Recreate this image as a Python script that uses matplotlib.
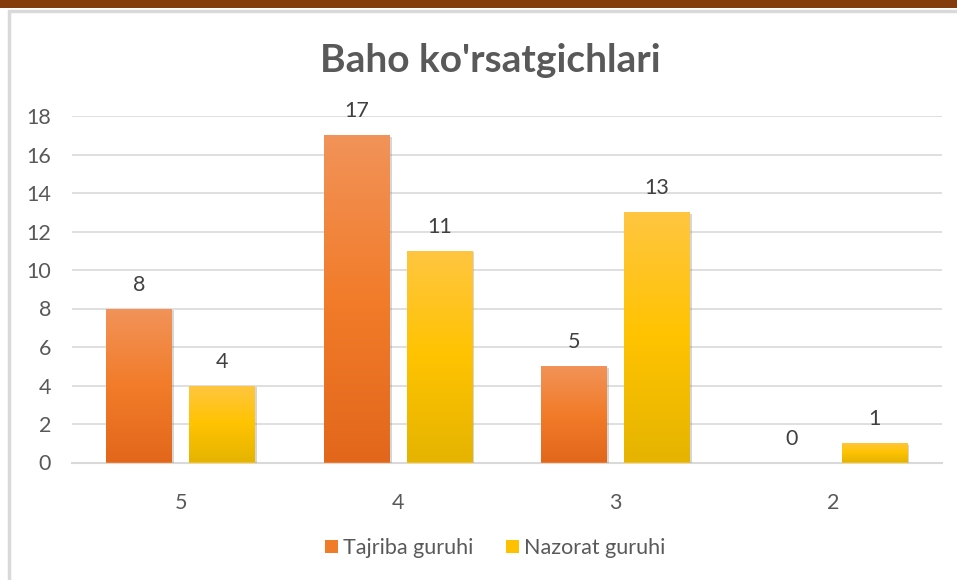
import matplotlib
matplotlib.use("Agg")
import matplotlib.pyplot as plt
import numpy as np
from matplotlib.colors import LinearSegmentedColormap
from matplotlib.patches import Rectangle, Patch
import matplotlib.patheffects as pe

categories = ["5", "4", "3", "2"]
tajriba = [8, 17, 5, 0]
nazorat = [4, 11, 13, 1]
series_names = ["Tajriba guruhi", "Nazorat guruhi"]
title = "Baho ko'rsatgichlari"
yticks = [0, 2, 4, 6, 8, 10, 12, 14, 16, 18]

FONT = ["Lato", "DejaVu Sans"]
plt.rcParams["font.family"] = FONT
TXT = "#595959"
FS = 15.5

fig = plt.figure(figsize=(9.57, 5.8), dpi=100)
W, H = 957, 580

# brown top band and chart area border
fig.patches.append(Rectangle((0, 1 - 8 / H), 1, 8 / H, transform=fig.transFigure,
                             facecolor="#843C0C", edgecolor="none", zorder=-2))
fig.patches.append(Rectangle((8.5 / W, -0.1), 1.2, 1 - 11 / H + 0.1, transform=fig.transFigure,
                             facecolor="white", edgecolor="#D9D9D9", linewidth=2.5, zorder=-2))

ax = fig.add_axes([72 / W, 1 - 462.5 / H, 870 / W, 346.5 / H])
ax.set_zorder(1)
ax.set_facecolor("none")

x = np.arange(len(categories))
bw = 0.303
off = 0.19

cmap_o = LinearSegmentedColormap.from_list("o", ["#F19359", "#F27C2A", "#E2671B"])
cmap_y = LinearSegmentedColormap.from_list("y", ["#FFC641", "#FFC300", "#E5B400"])

shadow = [pe.SimplePatchShadow(offset=(1.2, -1.2), shadow_rgbFace="#7a7a7a", alpha=0.3), pe.Normal()]
b1 = ax.bar(x - off, tajriba, bw, color="#F07B28", zorder=3, path_effects=shadow)
b2 = ax.bar(x + off, nazorat, bw, color="#FFC000", zorder=3, path_effects=shadow)

for bars, cm in ((b1, cmap_o), (b2, cmap_y)):
    for b in bars:
        h = b.get_height()
        if h <= 0:
            continue
        x0 = b.get_x()
        im = ax.imshow(np.linspace(0, 1, 256).reshape(-1, 1),
                       extent=(x0, x0 + b.get_width(), 0, h), cmap=cm,
                       aspect="auto", origin="upper", zorder=4, vmin=0, vmax=1)
        im.set_clip_path(b)

ax.set_xlim(-0.5, 3.5)
ax.set_ylim(0, 18)
ax.set_yticks(yticks)
ax.set_xticks(x)
ax.set_xticklabels(categories)
ax.grid(axis="y", color="#D9D9D9", linewidth=1.2, zorder=0)
ax.set_axisbelow(True)
for s in ["top", "right", "left"]:
    ax.spines[s].set_visible(False)
ax.spines["bottom"].set_color("#D9D9D9")
ax.spines["bottom"].set_linewidth(1.5)
ax.tick_params(axis="both", length=0, labelsize=FS, labelcolor=TXT)
ax.tick_params(axis="y", pad=15)
ax.tick_params(axis="x", pad=22)

for bars, vals in ((b1, tajriba), (b2, nazorat)):
    for b, v in zip(bars, vals):
        ax.annotate(str(v), (b.get_x() + b.get_width() / 2, v), xytext=(0, 10),
                    textcoords="offset points", ha="center", va="bottom",
                    fontsize=FS, color="#404040", zorder=6)

fig.text(490.5 / W, 1 - 60 / H, title, ha="center", va="center", fontsize=28,
         fontweight="bold", color=TXT)

handles = [Patch(facecolor="#F07B28"), Patch(facecolor="#FFC000")]
fig.legend(handles, series_names, loc="center", bbox_to_anchor=(495 / W, 1 - 548 / H),
           ncol=2, frameon=False, fontsize=FS, labelcolor=TXT, handlelength=0.6,
           handleheight=0.6, handletextpad=0.25, columnspacing=1.5)

fig.savefig("out.png", dpi=100)
